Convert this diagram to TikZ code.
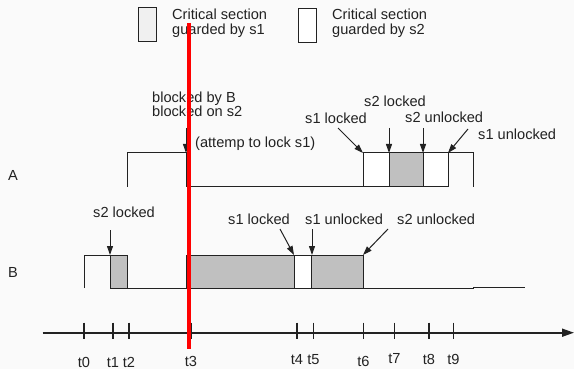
\documentclass[tikz,border=0pt]{standalone}
\usepackage{fontspec}
\setmainfont{Liberation Sans}
\usepackage{tikz}
\usetikzlibrary{
  arrows.meta,
  positioning,
}
\definecolor{paper}{RGB}{250, 250, 250}
\definecolor{ink}{RGB}{34, 34, 34}
\definecolor{lockgrey}{RGB}{192, 192, 192}
\tikzstyle{txt} = [
  font=\fontsize{14.6}{14.5}\selectfont,
  inner sep=0pt,
  text=ink,
  align=left,
]
\tikzstyle{signal} = [line width=1pt, ink]
\tikzstyle{held} = [draw=ink, line width=1pt, fill=lockgrey]
\tikzstyle{free} = [draw=ink, line width=1pt, fill=white]
\tikzstyle{arrow} = [
  -{Triangle[length=9pt,width=6pt]},
  line width=1pt,
  ink,
]

\begin{document}
\begin{tikzpicture}[x=1pt, y=-1pt]

        \fill [paper] (0,0) rectangle (574,369);
        \useasboundingbox (0,0) rectangle (574,369);

        % Legend
        \draw [draw=ink, line width=1pt, fill=black!6] (138,8) rectangle (156,42);
        \node [txt, anchor=base west] (key1) at (172,34.5) {Critical section\\guarded by s1};
        \draw [free] (298,9) rectangle (316,43);
        \node [txt, anchor=base west] (key2) at (332,34.5) {Critical section\\guarded by s2};

        % Process A
        \node [txt, anchor=base] (A) at (13,180) {A};
        \draw [signal] (127,187) -- (127,153) -- (186,153) -- (186,187) -- (363,187);
        \draw [free] (363,153) rectangle (389,187);
        \draw [held] (389,153) rectangle (423,187);
        \draw [free] (423,153) rectangle (448,187);
        \draw [signal] (448,153) -- (473,153) -- (473,187);

        \coordinate (a-stop) at (186,153);
        \coordinate (a-s1l) at (363,153);
        \coordinate (a-s2l) at (389,153);
        \coordinate (a-s2u) at (423,153);
        \coordinate (a-s1u) at (448,153);

        \node [txt, anchor=base west] (blocked) at (152,117) {blocked by B\\blocked on s2};
        \node [txt, anchor=base west] (attempt) at (195,148) {(attemp to lock s1)};
        \node [txt, anchor=base west] (a-s1l-txt) at (305,124) {s1 locked};
        \node [txt, anchor=base west] (a-s2l-txt) at (364,107) {s2 locked};
        \node [txt, anchor=base west] (a-s2u-txt) at (405,123) {s2 unlocked};
        \node [txt, anchor=base west] (a-s1u-txt) at (478,140) {s1 unlocked};

        \coordinate (a-stop-tail) at (186,128);
        \coordinate (a-s1l-tail) at (338,128);
        \coordinate (a-s2l-tail) at (389,128);
        \coordinate (a-s2u-tail) at (423,128);
        \coordinate (a-s1u-tail) at (468,129);

        \draw [arrow] (a-stop-tail) -- (a-stop);
        \draw [arrow] (a-s1l-tail) -- (a-s1l);
        \draw [arrow] (a-s2l-tail) -- (a-s2l);
        \draw [arrow] (a-s2u-tail) -- (a-s2u);
        \draw [arrow] (a-s1u-tail) -- (a-s1u);

        % Process B
        \node [txt, anchor=base] (B) at (13,277) {B};
        \draw [signal] (84,288) -- (84,255) -- (110,255);
        \draw [held] (110,255) rectangle (127,288);
        \draw [signal] (127,288) -- (186,288);
        \draw [held] (186,255) rectangle (294,288);
        \draw [free] (294,255) rectangle (311,288);
        \draw [held] (311,255) rectangle (363,288);
        \draw [signal] (363,288) -- (473,288) -- (473,287) -- (525,287);

        \coordinate (b-s2l) at (110,255);
        \coordinate (b-s1l) at (294,255);
        \coordinate (b-s1u) at (312,255);
        \coordinate (b-s2u) at (363,255);

        \node [txt, anchor=base west] (b-s2l-txt) at (93,217) {s2 locked};
        \node [txt, anchor=base west] (b-s1l-txt) at (228,225) {s1 locked};
        \node [txt, anchor=base west] (b-s1u-txt) at (305,225) {s1 unlocked};
        \node [txt, anchor=base west] (b-s2u-txt) at (397,225) {s2 unlocked};

        \coordinate (b-s2l-tail) at (110,230);
        \coordinate (b-s1l-tail) at (280,229);
        \coordinate (b-s1u-tail) at (312,229);
        \coordinate (b-s2u-tail) at (388,229);

        \draw [arrow] (b-s2l-tail) -- (b-s2l);
        \draw [arrow] (b-s1l-tail) -- (b-s1l);
        \draw [arrow] (b-s1u-tail) -- (b-s1u);
        \draw [arrow] (b-s2u-tail) -- (b-s2u);

        % Time axis
        \coordinate (t-start) at (42.7,332.7);
        \coordinate (t-end) at (574,332.7);
        \draw [-{Triangle[length=12pt,width=8pt]}, line width=1.7pt, ink] (t-start) -- (t-end);

        \foreach \x/\dy [count=\i from 0] in {84/0, 113/0, 129/0, 191/1, 297/3,
                                              313.5/3, 363.5/1, 394.5/3.5, 429/2.5, 453.5/3} {
          \draw [line width=1.3pt, ink] (\x,322.7) -- (\x,339);
          \node [txt, anchor=base] (t\i) at (\x,367-\dy) {t\i};
        }

        % Now
        \draw [red, line width=3.3pt] (189,23) -- (189,349);
      \end{tikzpicture}
\end{document}
